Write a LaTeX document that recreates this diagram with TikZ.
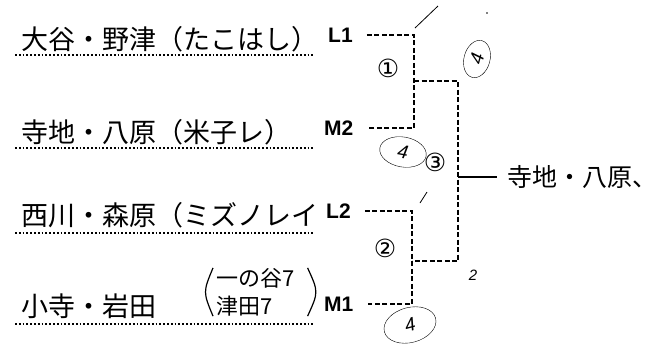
\documentclass[tikz,border=0pt]{standalone}
\usepackage{fontspec}
\setmainfont{Liberation Sans}
\newfontfamily\cjk{Noto Sans CJK JP}
\newfontfamily\dejavu{DejaVu Sans}
\usetikzlibrary{shapes.geometric}

\begin{document}
\begin{tikzpicture}[x=1pt,y=-1pt]
\tikzstyle{team}=[font=\cjk\fontsize{27}{29}\selectfont,inner sep=0,anchor=base west];
\tikzstyle{seed}=[font=\bfseries\fontsize{21}{23}\selectfont,inner sep=0,anchor=west];
\tikzstyle{uline}=[dotted,line width=1.8pt];
\tikzstyle{bracket}=[dash pattern=on 5pt off 2.5pt,line width=1.8pt];
\tikzstyle{game}=[font=\dejavu\fontsize{25}{25}\selectfont,inner sep=0];
\tikzstyle{score}=[draw,ellipse,thin,inner sep=0,font=\itshape\fontsize{19}{19}\selectfont];

\useasboundingbox (0,0) rectangle (662,349);

% team names
\node [team] (n1) at (21,49) {大谷・野津（たこはし）};
\node [team] (n2) at (21,142) {寺地・八原（米子レ）};
\node [team] (n3) at (21,225) {西川・森原（ミズノレイ};
\node [team] (n4) at (21,316) {小寺・岩田};
\node [font=\cjk\fontsize{22}{28}\selectfont,align=left,inner sep=0,anchor=west] (n4b) at (216,292) {一の谷7\\津田7};
\draw [line width=1.2pt] ([xshift=-3pt]n4b.north west) .. controls ([xshift=-13pt]n4b.west) .. ([xshift=-3pt]n4b.south west);
\draw [line width=1.2pt] ([xshift=13pt]n4b.north east) .. controls ([xshift=24pt]n4b.east) .. ([xshift=13pt]n4b.south east);

\draw [uline] (15,55) -- (314,55);
\draw [uline] (15,148) -- (314,148);
\draw [uline] (15,233) -- (314,233);
\draw [uline] (15,324) -- (314,324);

% seeds
\node [seed] (l1) at (328,35) {L1};
\node [seed] (m2) at (324,128) {M2};
\node [seed] (l2) at (326,211) {L2};
\node [seed] (m1) at (324,304) {M1};

% bracket
\coordinate (a) at (414,35);
\coordinate (b) at (414,128);
\coordinate (ab) at (414,81);
\coordinate (c) at (412,211);
\coordinate (d) at (412,304);
\coordinate (cd) at (412,261);
\coordinate (f) at (458,177);

\draw [bracket] ([xshift=14pt]l1.east) -- (a) -- (b) -- ([xshift=14pt]m2.east);
\draw [bracket] ([xshift=14pt]l2.east) -- (c) -- (d) -- ([xshift=14pt]m1.east);
\draw [bracket] (ab) -- (ab -| f) -- (cd -| f) -- (cd);

\node [font=\cjk\fontsize{25}{27}\selectfont,anchor=west,inner sep=0] (win) at (507,177) {寺地・八原、};
\draw [line width=2pt] (f) -- ([xshift=-10pt]win.west);

% game numbers
\node [game] (g1) at (388,68) {①};
\node [game] (g2) at (385,248) {②};
\node [game] (g3) at (435,162) {③};

% scores
\node [score,minimum width=38pt,minimum height=26pt,rotate=75] (s1) at (477,59) {4};
\node [score,minimum width=47pt,minimum height=30pt,rotate=-10] (s2) at (403,152) {4};
\node [score,minimum width=53pt,minimum height=35pt,rotate=15] (s3) at (410,325) {4};
\node [font=\itshape\fontsize{15}{15}\selectfont,inner sep=0] (two) at (473,275) {2};

% marks
\draw [thick] ([shift={(1,-7)}]a) -- ([shift={(24,-29)}]a);
\draw [thick] ([shift={(8,-8)}]c) -- ([shift={(15,-19)}]c);
\fill (487,13) circle (0.9);
\end{tikzpicture}
\end{document}
